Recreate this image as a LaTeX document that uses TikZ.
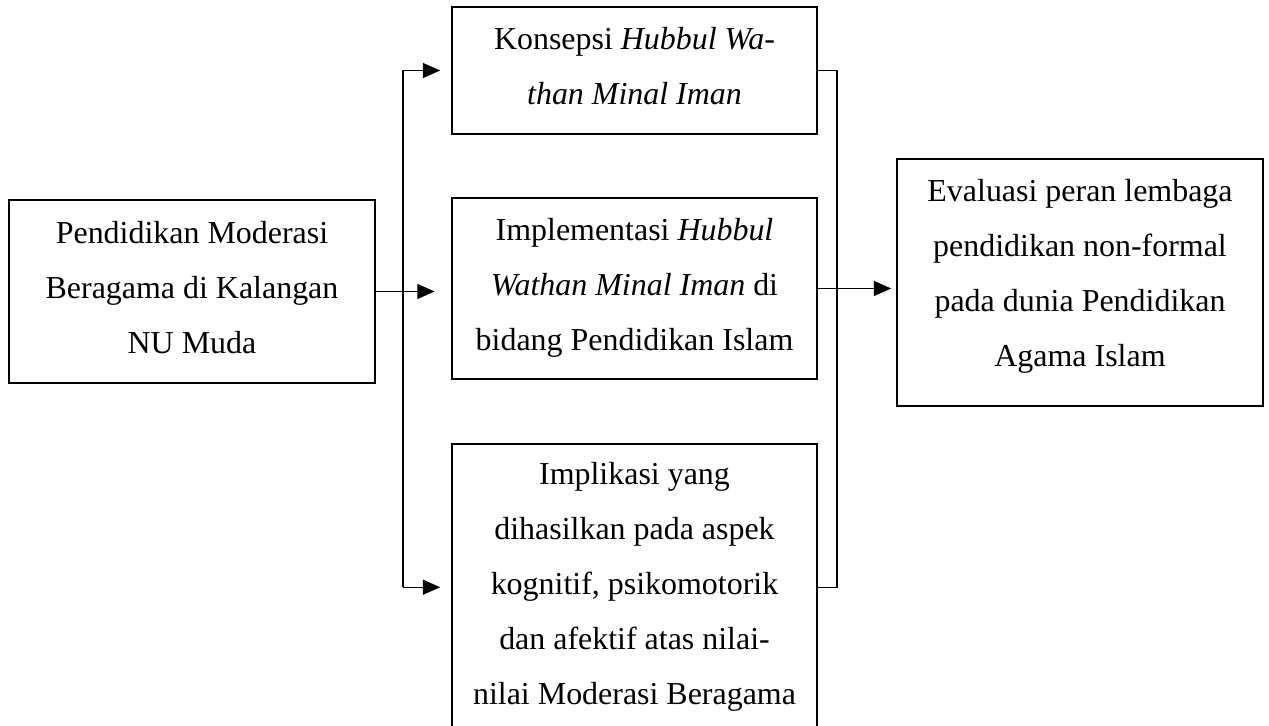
\documentclass[tikz,border=0pt]{standalone}
\usepackage{fontspec}
\setmainfont{Liberation Serif}
\usetikzlibrary{arrows.meta}
\newcommand{\boxfoot}[1]{\rule[-#1]{0pt}{0pt}}

\begin{document}
\begin{tikzpicture}[x=0.36pt,y=-0.36pt,
  box/.style={draw, line width=0.55pt, align=center, inner sep=0pt,
    font=\fontsize{11.5}{19.8}\selectfont},
  conn/.style={line width=0.4pt},
  arr/.style={conn, -{Triangle[length=6.2pt,width=5.4pt]}}]
\useasboundingbox (0,0) rectangle (1269,726);

% boxes
\node[box, minimum width=131.8pt, minimum height=65.9pt] (pend) at (192,291.5)
  {Pendidikan Moderasi\\ Beragama di Kalangan\\ NU Muda\boxfoot{2.9pt}};

\node[box, minimum width=131.4pt, minimum height=45.7pt] (konsep) at (634.5,70.5)
  {Konsepsi \textit{Hubbul Wa-}\\ \textit{than Minal Iman}\boxfoot{3pt}};

\node[box, minimum width=131.4pt, minimum height=65.2pt] (implem) at (634.5,288.5)
  {Implementasi \textit{Hubbul}\\ \textit{Wathan Minal Iman} di\\ bidang Pendidikan Islam\boxfoot{2.9pt}};

\node[box, minimum width=131.4pt, minimum height=103.3pt, anchor=north] (implik) at (634.5,443)
  {Implikasi yang\\ dihasilkan pada aspek\\ kognitif, psikomotorik\\ dan afektif atas nilai-\\ nilai Moderasi Beragama\boxfoot{2.5pt}};

\node[box, minimum width=131.8pt, minimum height=88.9pt] (evalu) at (1080,282.5)
  {Evaluasi peran lembaga\\ pendidikan non-formal\\ pada dunia Pendidikan\\ Agama Islam\boxfoot{7.1pt}};

% connectors
\coordinate (fork) at (403,0);
\coordinate (join) at (837,0);

\draw[arr, shorten >=6pt] (pend.east) -- (pend.east -| implem.west);
\draw[conn] (fork |- konsep.west) -- (fork |- implik.west);
\draw[arr, shorten >=4pt] (fork |- konsep.west) -- (konsep.west);
\draw[arr, shorten >=4pt] (fork |- implik.west) -- (implik.west);

\draw[conn] (konsep.east) -| (join |- implik.east) -- (implik.east);
\draw[arr, shorten >=1.8pt] (implem.east) -- (implem.east -| evalu.west);

\end{tikzpicture}
\end{document}
